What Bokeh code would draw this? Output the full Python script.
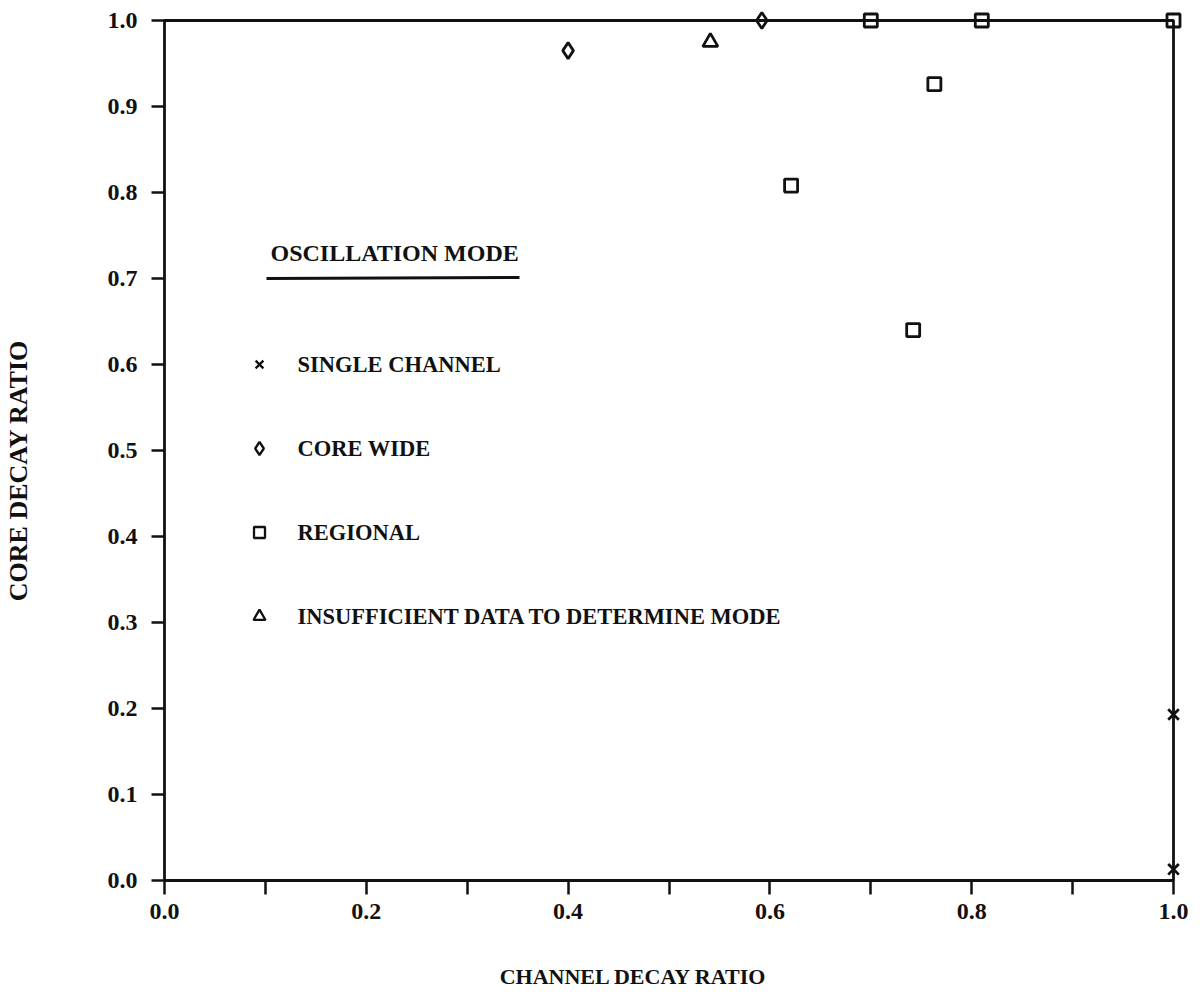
from math import pi

from bokeh.embed import file_html
from bokeh.models import BoxAnnotation, FixedTicker, Label, PrintfTickFormatter, Range1d
from bokeh.plotting import figure
from bokeh.resources import INLINE

# ---- data: decay ratios by oscillation mode ----
single_channel_x = [1.0, 1.0]
single_channel_y = [0.193, 0.013]

core_wide_x = [0.40, 0.592]
core_wide_y = [0.965, 1.0]

regional_x = [0.70, 0.81, 1.0, 0.621, 0.763, 0.742]
regional_y = [1.0, 1.0, 1.0, 0.808, 0.926, 0.640]

insufficient_x = [0.541]
insufficient_y = [0.975]

x_ticks = [0.0, 0.2, 0.4, 0.6, 0.8, 1.0]
x_minor_ticks = [0.1, 0.3, 0.5, 0.7, 0.9]
x_tick_labels = ["0.0", "0.2", "0.4", "0.6", "0.8", "1.0"]
y_ticks = [0.0, 0.1, 0.2, 0.3, 0.4, 0.5, 0.6, 0.7, 0.8, 0.9, 1.0]
y_tick_labels = ["0.0", "0.1", "0.2", "0.3", "0.4", "0.5", "0.6", "0.7", "0.8", "0.9", "1.0"]

legend_title = "OSCILLATION MODE"
legend_labels = ["SINGLE CHANNEL", "CORE WIDE", "REGIONAL", "INSUFFICIENT DATA TO DETERMINE MODE"]
legend_markers = ["x", "diamond", "square", "triangle"]

x_title = "CHANNEL DECAY RATIO"
y_title = "CORE DECAY RATIO"

# ---- layout (pixels) ----
# The drawing area fills the whole canvas; the axes are pinned to the data
# origin so ticks, labels and titles all live inside it.
W, H = 1200, 992
AX_LEFT, AX_RIGHT = 164, 1173      # pixel of x = 0 and x = 1
AX_TOP, AX_BOTTOM = 20, 880        # pixel of y = 1 and y = 0
PX_X = AX_RIGHT - AX_LEFT
PX_Y = AX_BOTTOM - AX_TOP


def px_x(px):
    return (px - AX_LEFT) / PX_X


def px_y(py):
    return (AX_BOTTOM - py) / PX_Y


FONT = "Liberation Serif"
INK = "#111111"

p = figure(
    width=W, height=H,
    x_range=Range1d(px_x(0), px_x(W)),
    y_range=Range1d(px_y(H), px_y(0)),
    output_backend="svg", toolbar_location=None,
    min_border_left=0, min_border_right=0, min_border_top=0, min_border_bottom=0,
)
p.outline_line_color = None
p.grid.visible = False
p.background_fill_color = "white"
p.border_fill_color = "white"

for ax in (p.xaxis[0], p.yaxis[0]):
    ax.fixed_location = 0
    ax.bounds = (0, 1)
    ax.axis_line_color = None
    ax.major_tick_in = 0
    ax.minor_tick_in = 0
    ax.major_tick_line_color = INK
    ax.minor_tick_line_color = INK
    ax.major_tick_line_width = 2.5
    ax.minor_tick_line_width = 2.5
    ax.major_label_text_font = FONT
    ax.major_label_text_font_style = "bold"
    ax.major_label_text_font_size = "24px"
    ax.major_label_text_color = INK
    ax.formatter = PrintfTickFormatter(format="%.1f")

p.xaxis[0].ticker = FixedTicker(ticks=x_ticks, minor_ticks=x_minor_ticks)
p.xaxis[0].major_tick_out = 14
p.xaxis[0].minor_tick_out = 14
p.xaxis[0].major_label_standoff = 9
p.xaxis[0].major_label_overrides = dict(zip(x_ticks, x_tick_labels))

p.yaxis[0].ticker = FixedTicker(ticks=y_ticks, minor_ticks=[])
p.yaxis[0].major_tick_out = 13
p.yaxis[0].major_label_standoff = 14
p.yaxis[0].major_label_overrides = dict(zip(y_ticks, y_tick_labels))

# plot frame
p.add_layout(BoxAnnotation(left=0, right=1, bottom=0, top=1,
                           fill_alpha=0, line_color=INK, line_alpha=1, line_width=2.8))

# ---- data markers ----
mk = dict(fill_color=None, line_color=INK, line_width=2.8)
p.scatter(single_channel_x, single_channel_y, marker="x", size=15, **mk)
p.scatter(core_wide_x, core_wide_y, marker="diamond", size=16, **mk)
p.scatter(regional_x, regional_y, marker="square", size=13, **mk)
p.scatter(insufficient_x, insufficient_y, marker="triangle", size=15, **mk)

# ---- legend block drawn inside the plot ----
p.add_layout(Label(x=px_x(270), y=px_y(252), text=legend_title,
                   text_font=FONT, text_font_style="bold", text_font_size="24px",
                   text_color=INK, text_align="left", text_baseline="middle"))
p.segment(x0=[px_x(266)], y0=[px_y(278)], x1=[px_x(519)], y1=[px_y(277)],
          line_color=INK, line_width=3)

row_y = [364, 448, 532, 616]
legend_sizes = [11, 13, 11, 12]
for lbl, mkr, ry, sz in zip(legend_labels, legend_markers, row_y, legend_sizes):
    p.scatter([px_x(259)], [px_y(ry)], marker=mkr, size=sz,
              fill_color=None, line_color=INK, line_width=2.3)
    p.add_layout(Label(x=px_x(297), y=px_y(ry), text=lbl,
                       text_font=FONT, text_font_style="bold", text_font_size="22.5px",
                       text_color=INK, text_align="left", text_baseline="middle"))

# ---- axis titles ----
p.add_layout(Label(x=px_x(633), y=px_y(976), text=x_title,
                   text_font=FONT, text_font_style="bold", text_font_size="22px",
                   text_color=INK, text_align="center", text_baseline="middle"))
p.add_layout(Label(x=px_x(18), y=px_y(470), text=y_title, angle=pi / 2,
                   text_font=FONT, text_font_style="bold", text_font_size="26px",
                   text_color=INK, text_align="center", text_baseline="middle"))

open("out.html", "w").write(file_html(p, INLINE))
